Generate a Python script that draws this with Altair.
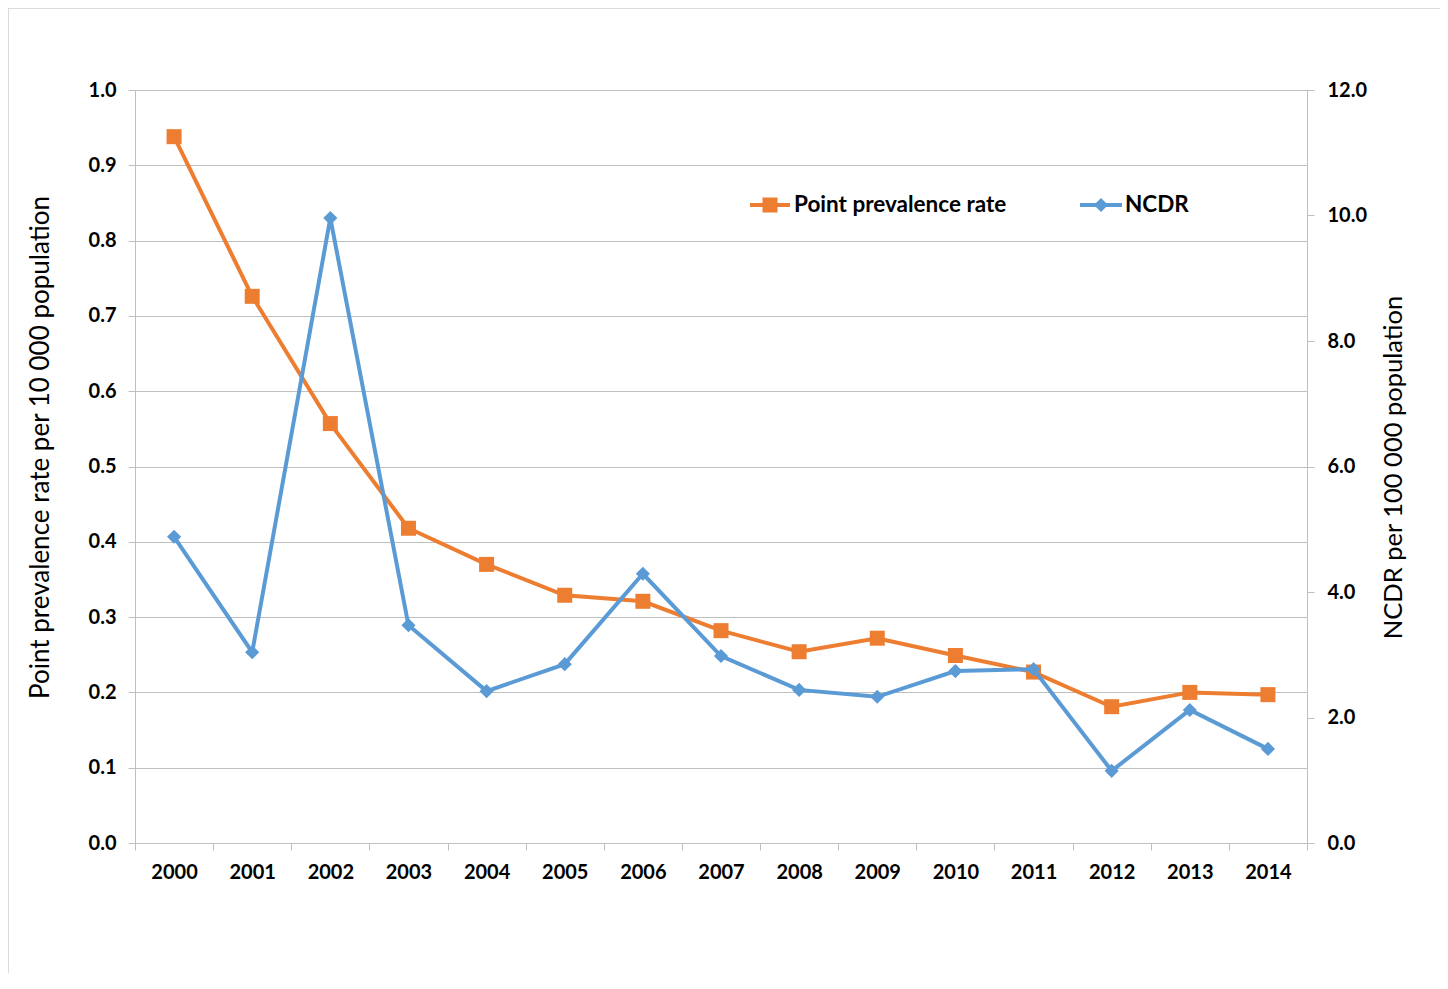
import altair as alt
import pandas as pd

years = [str(y) for y in range(2000, 2015)]
prevalence = [0.938, 0.726, 0.557, 0.418, 0.370, 0.329, 0.321, 0.282, 0.254, 0.272, 0.249, 0.227, 0.181, 0.200, 0.197]
ncdr = [4.88, 3.04, 9.96, 3.47, 2.42, 2.85, 4.29, 2.98, 2.44, 2.33, 2.74, 2.77, 1.15, 2.12, 1.50]
left_ticks = [round(i * 0.1, 1) for i in range(11)]
right_ticks = [0, 2, 4, 6, 8, 10, 12]
legend_labels = ["Point prevalence rate", "NCDR"]
left_title = "Point prevalence rate per 10 000 population"
right_title = "NCDR per 100 000 population"

ORANGE = "#ED7D31"
BLUE = "#5B9BD5"
GRID = "#BFBFBF"
FONT = "Lato"

W, H = 1172, 753

df = pd.DataFrame({"year": years, "prev": prevalence, "ncdr": ncdr})

xenc = alt.X(
    "year:O",
    scale=alt.Scale(type="band", paddingInner=0, paddingOuter=0),
    axis=alt.Axis(
        title=None, labelAngle=0, tickBand="extent", tickSize=7, labelPadding=12,
        labelFont=FONT, labelFontWeight="bold", labelFontSize=20, labelColor="#000",
        domainColor=GRID, tickColor=GRID, grid=False,
    ),
)

left_axis = alt.Axis(
    values=left_ticks, format=".1f", grid=True, gridColor=GRID, domainColor=GRID,
    tickColor=GRID, tickSize=7, labelPadding=12, labelFont=FONT, labelFontWeight="bold",
    labelFontSize=20, labelColor="#000", title=left_title, titleFont=FONT,
    titleFontWeight="normal", titleFontSize=26, titleColor="#000", titleAngle=270,
    titleX=-95, titleY=357, titleAlign="center", titleBaseline="middle",
)
right_axis = alt.Axis(
    orient="right", values=right_ticks, format=".1f", grid=False, domainColor=GRID,
    tickColor=GRID, tickSize=7, labelPadding=13, labelFont=FONT, labelFontWeight="bold",
    labelFontSize=20, labelColor="#000", title=right_title, titleFont=FONT,
    titleFontWeight="normal", titleFontSize=25.5, titleColor="#000", titleAngle=270,
    titleX=86, titleY=377, titleAlign="center", titleBaseline="middle",
)

base = alt.Chart(df)

prev_line = base.mark_line(color=ORANGE, strokeWidth=4).encode(
    x=xenc, y=alt.Y("prev:Q", scale=alt.Scale(domain=[0, 1], nice=False), axis=left_axis)
)
prev_pts = base.mark_point(shape="square", filled=True, opacity=1, color=ORANGE, size=225).encode(
    x=xenc, y=alt.Y("prev:Q", scale=alt.Scale(domain=[0, 1], nice=False), axis=left_axis)
)
left_layer = alt.layer(prev_line, prev_pts)

ncdr_line = base.mark_line(color=BLUE, strokeWidth=4).encode(
    x=xenc, y=alt.Y("ncdr:Q", scale=alt.Scale(domain=[0, 12], nice=False), axis=right_axis)
)
ncdr_pts = base.mark_point(shape="diamond", filled=True, opacity=1, color=BLUE, size=200).encode(
    x=xenc, y=alt.Y("ncdr:Q", scale=alt.Scale(domain=[0, 12], nice=False), axis=right_axis)
)
right_layer = alt.layer(ncdr_line, ncdr_pts)

# Legend (drawn inside the plot area)
one = alt.Data(values=[{"a": 1}])
lg_y = 115
leg = []
for label, color, shape, size, x0, x1, xs, xt in [
    (legend_labels[0], ORANGE, "square", 225, 615, 655, 635, 659),
    (legend_labels[1], BLUE, "diamond", 200, 945, 987, 966, 990),
]:
    d = alt.Data(values=[{"label": label}])
    leg.append(alt.Chart(d).mark_rule(color=color, strokeWidth=4).encode(
        x=alt.value(x0), x2=alt.value(x1), y=alt.value(lg_y)))
    leg.append(alt.Chart(d).mark_point(shape=shape, filled=True, opacity=1, color=color, size=size).encode(
        x=alt.value(xs), y=alt.value(lg_y)))
    leg.append(alt.Chart(d).mark_text(align="left", baseline="middle", font=FONT, fontWeight="bold",
                                      fontSize=22.5, color="#000").encode(
        x=alt.value(xt), y=alt.value(lg_y), text="label:N"))

frame = alt.Chart(one).mark_rect(fill=None, stroke="#D0D0D0", strokeWidth=1.5, clip=False).encode(
    x=alt.value(-127), x2=alt.value(1308), y=alt.value(-82), y2=alt.value(950)
)

chart = alt.layer(frame, left_layer, right_layer, *leg).resolve_scale(y="independent").properties(
    width=W, height=H,
    autosize=alt.AutoSizeParams(type="none"),
    padding={"left": 127, "top": 82, "right": 133, "bottom": 130},
).configure_view(stroke=None).configure(background="white")

chart.save("out.html", embed_options={"renderer": "svg", "actions": False})
